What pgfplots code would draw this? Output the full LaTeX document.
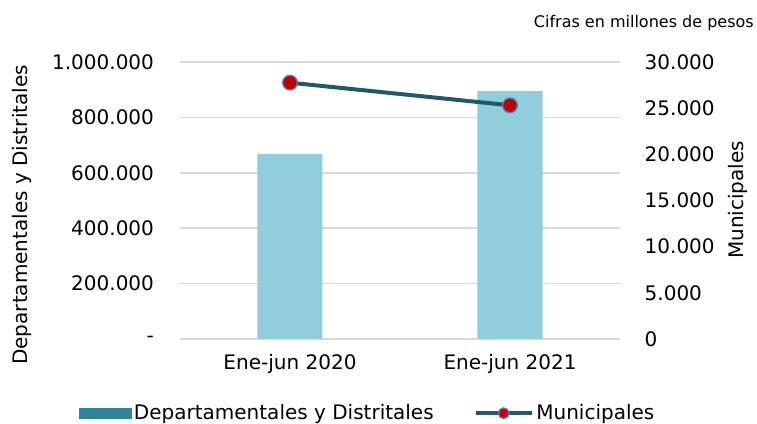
\documentclass[border=0pt]{standalone}
\usepackage{pgfplots}
\pgfplotsset{compat=1.18}
\usepackage{fontspec}
\setmainfont{DejaVu Sans}
\definecolor{barblue}{HTML}{92CDDC}
\definecolor{legteal}{HTML}{31849B}
\definecolor{linecol}{HTML}{215968}
\definecolor{mkred}{HTML}{C00000}
\definecolor{mkblue}{HTML}{4F81BD}
\definecolor{gridc}{HTML}{D9D9D9}
\begin{document}
\begin{tikzpicture}
\useasboundingbox (-135pt,-63.75pt) rectangle (432.75pt,254.25pt);
\begin{axis}[
  scale only axis, width=330pt, height=207.75pt,
  at={(0,0)}, anchor=south west,
  xmin=-0.5, xmax=1.5, ymin=0, ymax=1000000,
  xtick={0,1}, xticklabels={Ene-jun 2020, Ene-jun 2021},
  ytick={0,200000,400000,600000,800000,1000000},
  yticklabels={-,200.000,400.000,600.000,800.000,1.000.000},
  axis line style={draw=none},
  major tick length=0pt,
  ymajorgrids, grid style={color=gridc, line width=1.1pt},
  tick label style={font=\fontsize{15}{17}\selectfont},
  yticklabel style={xshift=-16pt},
  xticklabel style={yshift=-8pt},
  ylabel={Departamentales y Distritales},
  ylabel style={font=\fontsize{15}{17}\selectfont, at={(axis description cs:-0.359,0.448)}, anchor=center},
  scaled y ticks=false,
]
\addplot[ybar, bar width=48.75pt, bar shift=0pt, fill=barblue, draw=none] coordinates {(0,668000) (1,895000)};
\end{axis}
\begin{axis}[
  scale only axis, width=330pt, height=207.75pt,
  at={(0,0)}, anchor=south west,
  xmin=-0.5, xmax=1.5, ymin=0, ymax=30000,
  axis x line=none, axis y line*=right,
  axis line style={draw=none},
  major tick length=0pt,
  ytick={0,5000,10000,15000,20000,25000,30000},
  yticklabels={0,5.000,10.000,15.000,20.000,25.000,30.000},
  tick label style={font=\fontsize{15}{17}\selectfont},
  yticklabel style={xshift=15pt},
  ylabel={Municipales},
  ylabel style={font=\fontsize{15}{17}\selectfont, at={(axis description cs:1.268,0.502)}, anchor=center, rotate=0},
  scaled y ticks=false,
  legend columns=2,
  legend style={draw=none, fill=none, font=\fontsize{15}{17}\selectfont,
    at={(axis description cs:0.427,-0.268)}, anchor=center,
    /tikz/every even column/.append style={column sep=28pt}},
]
\addlegendimage{legend image code/.code={\fill[legteal] (0pt,-4pt) rectangle (39pt,4pt);}}
\addlegendentry{Departamentales y Distritales}
\addplot[color=linecol, line width=3pt, mark=*, mark size=5.5pt,
  mark options={fill=mkred, draw=mkblue, line width=1pt},
  legend image code/.code={\draw[linecol, line width=3pt] (0pt,0pt)--(42pt,0pt);
    \draw[fill=mkred, draw=mkblue, line width=1pt] (21pt,0pt) circle (4pt);}]
  coordinates {(0,27760) (1,25310)};
\addlegendentry{Municipales}
\end{axis}
\node[anchor=base east, inner sep=0pt, font=\fontsize{12}{14}\selectfont] at (430.5pt,233.25pt) {Cifras en millones de pesos};
\end{tikzpicture}
\end{document}
